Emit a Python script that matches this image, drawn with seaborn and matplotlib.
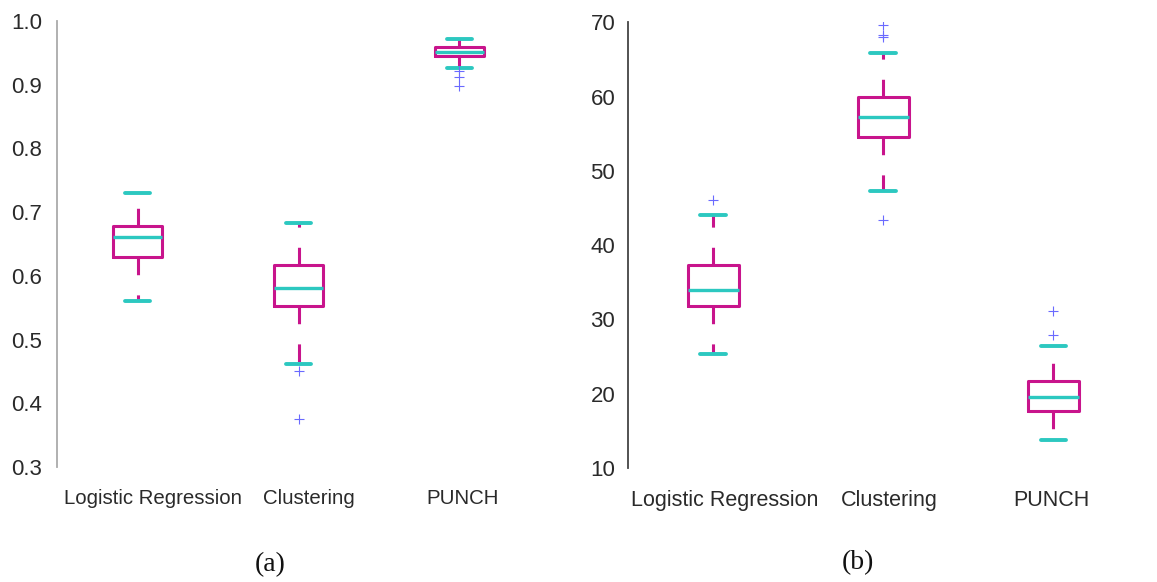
import numpy as np
import pandas as pd
import matplotlib
matplotlib.use("Agg")
import matplotlib.pyplot as plt
import matplotlib.transforms as mtransforms
import seaborn as sns

# ---- data -----------------------------------------------------------------
methods = ["Logistic Regression", "Clustering", "PUNCH"]

# panel (a): five-number summaries and outliers
a_low = [0.560, 0.462, 0.926]
a_q1 = [0.630, 0.553, 0.945]
a_median = [0.661, 0.581, 0.951]
a_q3 = [0.678, 0.617, 0.959]
a_high = [0.730, 0.683, 0.972]
a_fliers = [[], [0.451, 0.375], [0.922, 0.912, 0.898]]

# panel (b): five-number summaries and outliers
b_low = [25.3, 47.3, 13.8]
b_q1 = [31.8, 54.6, 17.7]
b_median = [33.9, 57.3, 19.6]
b_q3 = [37.3, 59.9, 21.7]
b_high = [44.0, 65.8, 26.4]
b_fliers = [[46.1], [69.6, 68.3, 68.0, 43.4], [31.2, 27.9]]

a_yticks = [0.3, 0.4, 0.5, 0.6, 0.7, 0.8, 0.9, 1.0]
b_yticks = [10, 20, 30, 40, 50, 60, 70]


def sample_from_summary(low, q1, med, q3, high, fliers, k=20):
    """Observations whose quartiles/whisker ends reproduce the summary."""
    return list(fliers) + [low] + [q1] * k + [med] * k + [q3] * k + [high]


def long_frame(low, q1, med, q3, high, fliers):
    rows = []
    for i, m in enumerate(methods):
        for v in sample_from_summary(low[i], q1[i], med[i], q3[i], high[i], fliers[i]):
            rows.append({"method": m, "value": v})
    return pd.DataFrame(rows)


df_a = long_frame(a_low, a_q1, a_median, a_q3, a_high, a_fliers)
df_b = long_frame(b_low, b_q1, b_median, b_q3, b_high, b_fliers)

# ---- style ----------------------------------------------------------------
sns.set_style("white")
plt.rcParams["font.family"] = ["Liberation Sans", "DejaVu Sans"]

MAGENTA = "#C8148C"
CYAN = "#2CC8C0"
FLIER = "#6A6AFF"

box_kws = dict(
    order=methods,
    width=0.30,
    fill=False,
    color=MAGENTA,
    whis=1.5,
    boxprops=dict(color=MAGENTA, linewidth=2.2),
    whiskerprops=dict(color=MAGENTA, linewidth=2.2,
                      linestyle=(0, (5.8, 6.6))),
    capprops=dict(color=CYAN, linewidth=2.8),
    medianprops=dict(color=CYAN, linewidth=2.4),
    flierprops=dict(marker="+", markeredgecolor=FLIER, markerfacecolor=FLIER,
                    markersize=6.5, markeredgewidth=0.8),
)

fig = plt.figure(figsize=(11.57, 5.82), dpi=100)
ax_a = fig.add_axes([0.0493, 0.1976, 0.4174, 0.7663])
ax_b = fig.add_axes([0.5428, 0.1959, 0.4412, 0.7658])

sns.boxplot(data=df_a, x="method", y="value", ax=ax_a, **box_kws)
sns.boxplot(data=df_b, x="method", y="value", ax=ax_b, **box_kws)

panels = [
    (ax_a, (0.3, 1.0), a_yticks, "{:.1f}", "#AAAAAA", 14.7, 10.8, [15, 10, 3]),
    (ax_b, (10, 70), b_yticks, "{:.0f}", "#444444", 15.5, 9.2, [12, 6, -2]),
]
for ax, ylim, yticks, fmt, spine_color, xsize, ypad, label_shift in panels:
    ax.set_xlim(-0.5, 2.5)
    ax.set_ylim(*ylim)
    ax.set_yticks(yticks)
    ax.set_yticklabels([fmt.format(t) for t in yticks])
    ax.set_xlabel("")
    ax.set_ylabel("")
    for side in ("top", "right", "bottom"):
        ax.spines[side].set_visible(False)
    ax.spines["left"].set_color(spine_color)
    ax.spines["left"].set_linewidth(1.3)
    ax.tick_params(axis="both", length=0, colors="#2A2A2A")
    ax.tick_params(axis="y", pad=ypad, labelsize=16)
    ax.tick_params(axis="x", pad=16, labelsize=xsize)
    for lab, dx in zip(ax.get_xticklabels(), label_shift):
        lab.set_transform(lab.get_transform() +
                          mtransforms.ScaledTranslation(dx / 100, 0, fig.dpi_scale_trans))

fig.text(0.2334, 0.0300, "(a)", ha="center", va="center",
         family=["Liberation Serif", "DejaVu Serif"], fontsize=20, color="#111111")
fig.text(0.7416, 0.0330, "(b)", ha="center", va="center",
         family=["Liberation Serif", "DejaVu Serif"], fontsize=20, color="#111111")

fig.savefig("out.png", dpi=100)
